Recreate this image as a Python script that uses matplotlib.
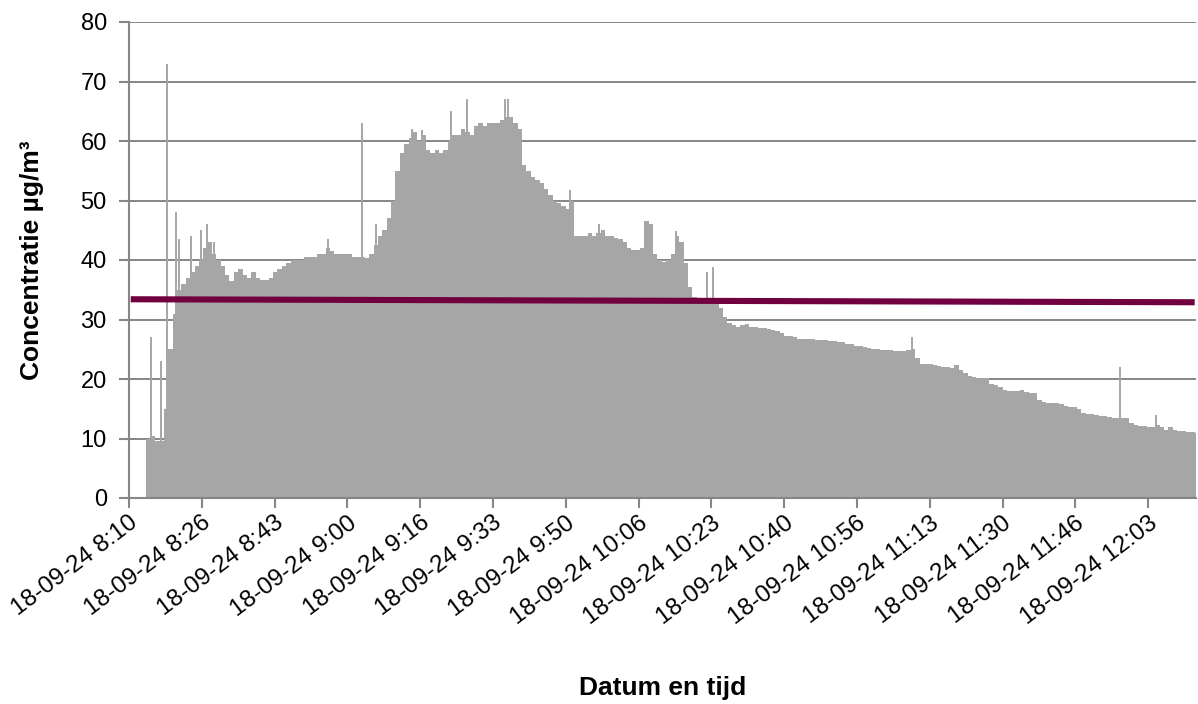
import numpy as np
import matplotlib
matplotlib.use("Agg")
import matplotlib.pyplot as plt
from datetime import datetime, timedelta

# data (minutes after 18-09-24 8:10, one reading per minute, µg/m3)
start = datetime(2024, 9, 18, 8, 10)
minutes = np.arange(4, 245)
conc = [
    10, 10.5, 9.5, 9.5, 15, 25, 31, 35, 36, 37,
    38, 39, 40, 42, 43, 41, 40, 39, 37.5, 36.5,
    38, 38.5, 37.5, 37, 38, 37, 36.7, 36.7, 37, 38,
    38.5, 39, 39.5, 40, 40, 40, 40.5, 40.5, 40.5, 41,
    41, 42, 41.5, 41, 41, 41, 41, 40.5, 40.5, 40.5,
    40.3, 41, 42.5, 44, 45, 47, 50, 55, 58, 59.5,
    60.5, 61.5, 60, 61, 58.5, 58, 58.5, 58, 58.5, 60,
    61, 61, 62, 61.5, 61, 62.5, 63, 62.5, 63, 63,
    63, 63.5, 64, 64, 63, 62, 56, 55, 54, 53.5,
    53, 52, 51, 50, 49.5, 49, 48.5, 50, 44, 44,
    44, 44.5, 44, 44.5, 45, 44, 44, 43.7, 43.5, 43,
    42, 41.7, 41.7, 42, 46.5, 46, 41, 40, 39.7, 40,
    41, 44, 43, 39.5, 35.5, 33.8, 33.3, 33.2, 33, 33.5,
    33, 32, 30.5, 29.4, 29, 28.7, 29, 29.3, 28.8, 28.8,
    28.6, 28.5, 28.4, 28.3, 28, 27.8, 27.3, 27.3, 27, 26.8,
    26.8, 26.7, 26.7, 26.6, 26.5, 26.5, 26.4, 26.4, 26.3, 26.2,
    25.9, 25.8, 25.6, 25.5, 25.3, 25.2, 25.1, 25.0, 24.8, 24.8,
    24.8, 24.7, 24.7, 24.7, 24.8, 25, 23.5, 22.6, 22.6, 22.5,
    22.4, 22.2, 22.1, 22, 21.8, 22.3, 21.5, 21, 20.5, 20.3,
    20.2, 20.2, 20.2, 19.2, 19, 18.6, 18.2, 18, 17.9, 18,
    18.2, 17.8, 17.7, 17.6, 16.5, 16.2, 16, 16, 16, 15.8,
    15.4, 15.3, 15.3, 15, 14.3, 14.2, 14.2, 14, 13.8, 13.7,
    13.6, 13.5, 13.5, 13.5, 13.4, 12.6, 12.2, 12.1, 12.1, 12,
    12, 12.3, 12, 11.4, 12, 11.5, 11.2, 11.2, 11.1, 11.1,
    11,
]

# short peaks between the minute readings
spike_min = [5.15, 7.25, 8.7, 10.7, 11.5, 14.2, 16.4, 17.9, 19.5, 45.5,
             53.3, 56.5, 64.7, 67.0, 73.8, 77.5, 86.0, 86.7, 101.0, 107.7,
             125.2, 132.4, 133.8, 179.25, 227.0, 235.1]
spike_val = [27, 23, 73, 48, 43.6, 44, 45, 46, 43, 43.6,
             63, 46, 62, 61.8, 65, 67, 67, 67, 51.8, 46,
             44.8, 38, 38.9, 27, 22, 14]

# purple reference line (start / end)
line_min = [0.4, 244.0]
line_val = [33.4, 32.9]

x_end = 244.3
tick_min = [k * 1000 / 60 for k in range(15)]
tick_lab = []
for m in tick_min:
    d = start + timedelta(minutes=m)
    tick_lab.append(f"{d:%d-%m-%y} {d.hour}:{d.minute:02d}")

plt.rcParams['font.family'] = ['Liberation Sans', 'DejaVu Sans']

fig = plt.figure(figsize=(11.98, 7.04), dpi=100)
ax = fig.add_axes([129 / 1198, 1 - 498 / 704, (1196 - 129) / 1198, 476 / 704])

grey = '#a6a6a6'
axc = '#868686'

ax.set_ylim(0, 80)
ax.set_xlim(0, x_end)
ax.set_yticks(range(0, 81, 10))
ax.yaxis.grid(True, color=axc, linewidth=1.4, zorder=0)
ax.set_axisbelow(True)

xs = np.append(minutes, x_end)
ys = np.append(conc, conc[-1])
ax.fill_between(xs, ys, step='post', color=grey, linewidth=0, zorder=2)
ax.vlines(spike_min, 0, spike_val, color=grey, linewidth=1.4, zorder=2)

ax.plot(line_min, line_val, color='#700040', linewidth=4.4, zorder=3,
        solid_capstyle='butt')

ax.set_xticks(tick_min)
ax.set_xticklabels(tick_lab, rotation=37, ha='right', rotation_mode='anchor',
                   fontsize=17.5)

for s in ['top', 'right']:
    ax.spines[s].set_visible(False)
for s in ['left', 'bottom']:
    ax.spines[s].set_color(axc)
    ax.spines[s].set_linewidth(1.5)
    ax.spines[s].set_zorder(4)

ax.tick_params(axis='both', colors=axc, labelcolor='black', labelsize=17,
               width=1.5, length=7, direction='out')
ax.tick_params(axis='y', pad=9)
ax.tick_params(axis='x', pad=3, labelsize=17.5)

ax.set_ylabel("Concentratie µg/m³", fontsize=19, fontweight='bold')
ax.yaxis.set_label_coords(-0.08, 0.5)
ax.set_xlabel("Datum en tijd", fontsize=19, fontweight='bold')
ax.xaxis.set_label_coords(0.5, -0.375)

fig.savefig("out.png", dpi=100)
